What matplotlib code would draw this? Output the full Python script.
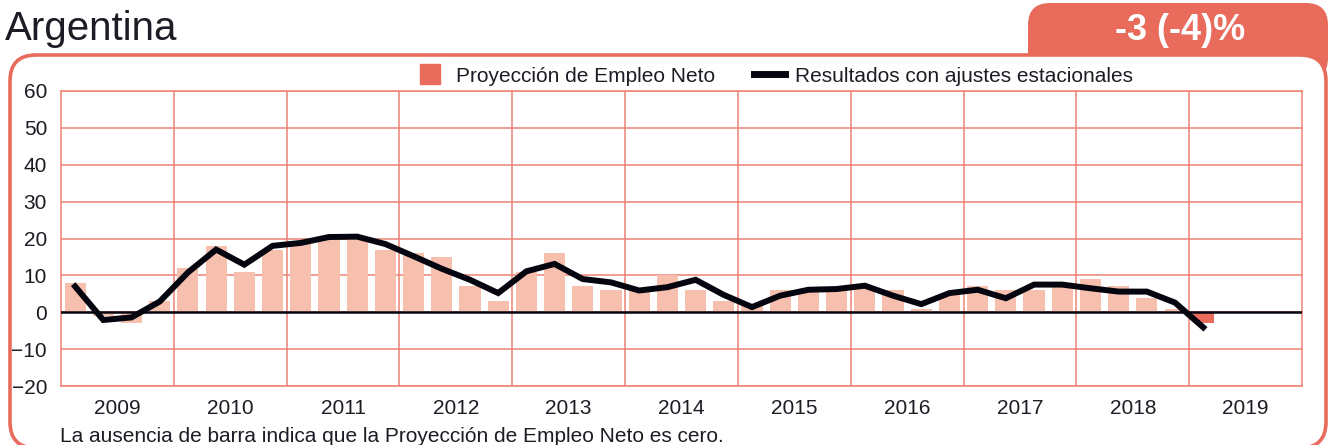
import numpy as np
import matplotlib
matplotlib.use("Agg")
import matplotlib.pyplot as plt
from matplotlib.patches import FancyBboxPatch
from matplotlib.lines import Line2D
from matplotlib.transforms import Affine2D

plt.rcParams['font.family'] = ['Liberation Sans', 'DejaVu Sans']

# datos trimestrales 2009 T1 - 2019 T1
years = [str(y) for y in range(2009, 2020)]
neto = [8, -1, -3, 3,
        12, 18, 11, 17,
        19, 20, 20, 17,
        16, 15, 7, 3,
        11, 16, 7, 6,
        6, 10, 6, 3,
        2, 6, 6, 6,
        7, 6, 1, 5,
        7, 6, 6, 7,
        9, 7, 4, 1,
        -3]
ajustado = [7, -2.1, -1.4, 2.9,
            10.8, 17, 12.9, 18,
            18.8, 20.4, 20.5, 18.5,
            15.2, 11.8, 8.8, 5.2,
            11.1, 13.1, 9, 8.1,
            5.9, 6.8, 8.8, 4.7,
            1.4, 4.5, 6.1, 6.3,
            7.2, 4.5, 2.2, 5.2,
            6.1, 3.8, 7.5, 7.5,
            6.5, 5.6, 5.6, 2.6,
            -4.1]
titulo = "Argentina"
resumen = "-3 (-4)%"

RED = "#E86B5B"
LIGHT = "#F6BFAE"
GRID = "#EE8274"
TXT = "#1c1c24"

W, H = 1335, 445
fig = plt.figure(figsize=(W / 100, H / 100), dpi=100)
px = Affine2D().scale(1 / W, 1 / H) + fig.transFigure

# pestaña y marco redondeado (detras de los ejes)
tab = FancyBboxPatch((1028, H - 80), 300, 77, boxstyle="round,pad=0,rounding_size=22",
                     transform=px, facecolor=RED, edgecolor="none", zorder=-2)
fig.patches.append(tab)
box = FancyBboxPatch((10, -3), 1316, H - 52, boxstyle="round,pad=0,rounding_size=26",
                     transform=px, facecolor="white", edgecolor=RED, linewidth=2.6, zorder=-1)
fig.patches.append(box)

fig.text(5 / W, (H - 40) / H, titulo, fontsize=29, color=TXT, va="baseline", ha="left")
fig.text(1180 / W, (H - 40) / H, resumen, fontsize=26, fontweight="bold", color="white",
         va="baseline", ha="center")

ax = fig.add_axes([61 / W, 59 / H, 1241 / W, 295 / H])
ax.set_zorder(1)
x = np.arange(len(neto))
colors = [LIGHT] * (len(neto) - 1) + [RED]
ax.bar(x, neto, width=0.75, color=colors, zorder=2)
ax.plot(x, ajustado, color="#05050f", linewidth=4.3, solid_joinstyle="miter", zorder=4)
ax.axhline(0, color="#05050f", linewidth=1.8, zorder=3)

ax.set_xlim(-0.5, 4 * len(years) - 0.5)
ax.set_ylim(-20, 60)
ax.set_yticks(range(-20, 61, 10))
ax.set_xticks([4 * i + 1.5 for i in range(len(years))])
ax.set_xticklabels(years)
ax.set_xticks([4 * i - 0.5 for i in range(1, len(years))], minor=True)
ax.grid(axis="y", which="major", color=GRID, linewidth=1.1, zorder=1)
ax.grid(axis="x", which="minor", color=GRID, linewidth=1.1, zorder=1)
ax.tick_params(axis="both", which="both", length=0, labelsize=15, labelcolor=TXT)
ax.tick_params(axis="x", pad=9)
ax.tick_params(axis="y", pad=10)
for s in ax.spines.values():
    s.set_color(GRID)
    s.set_linewidth(1.1)
ax.set_axisbelow(True)

handles = [Line2D([], [], marker="s", markersize=15, linestyle="none", color=RED),
           Line2D([], [], color="#05050f", linewidth=5)]
fig.legend(handles, ["Proyección de Empleo Neto", "Resultados con ajustes estacionales"],
           loc="center", bbox_to_anchor=(774 / W, (H - 76) / H), ncol=2, frameon=False,
           fontsize=15, handlelength=1.45, handletextpad=0.5, columnspacing=1.9,
           labelcolor=TXT)

fig.text(60 / W, 3 / H, "La ausencia de barra indica que la Proyección de Empleo Neto es cero.",
         fontsize=15, color=TXT, va="baseline", ha="left")

fig.savefig("out.png", dpi=100)
